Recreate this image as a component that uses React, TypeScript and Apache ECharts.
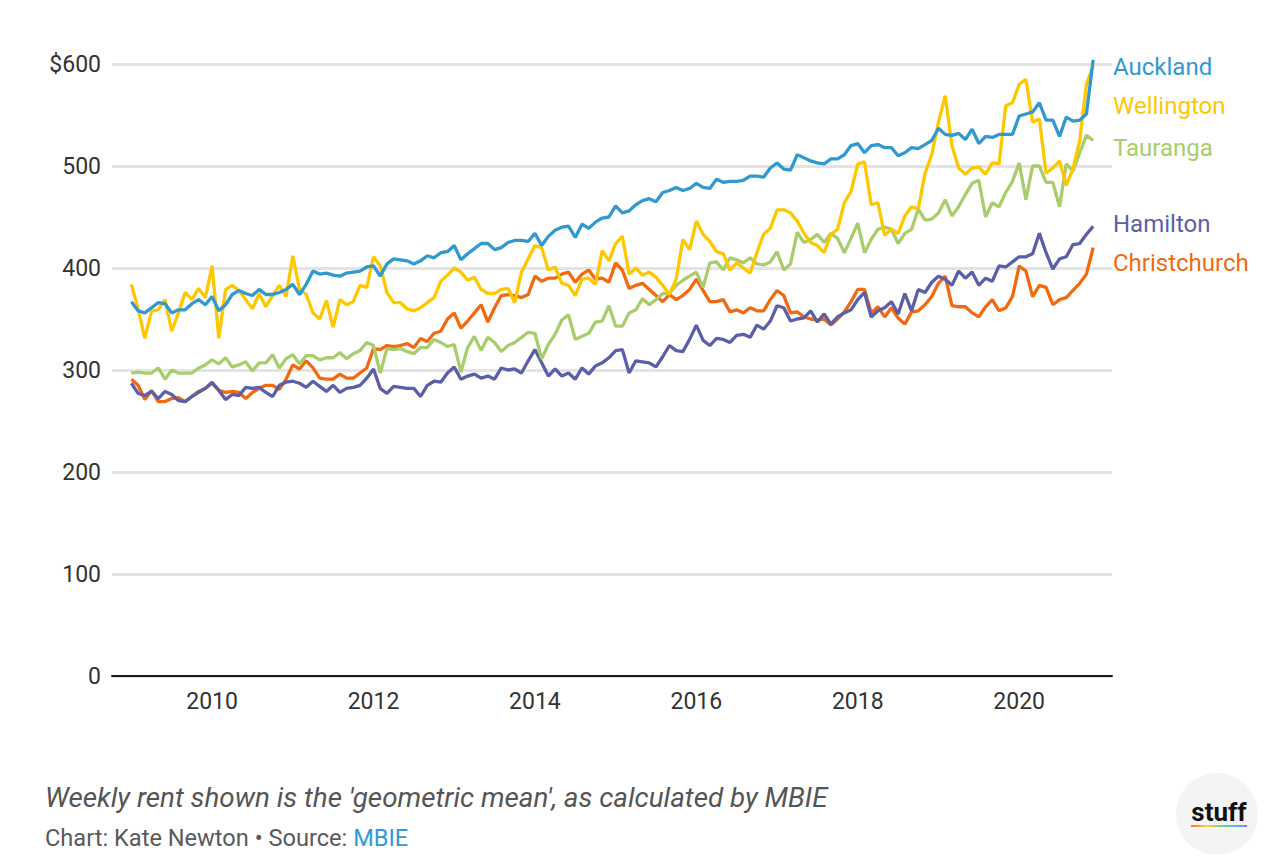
import React, { useEffect, useRef } from "react";
import * as echarts from "echarts";

// Monthly, Jan 2009 .. Dec 2020 (144 months)
const auckland = [
  367,358,356,361,366,365,356,359,359,365,369,364,372,358,364,374,378,375,373,379,374,374,376,379,384,374,384,397,394,395,393,392,395,396,397,401,402,392,404,409,408,407,404,407,412,410,
  415,416,422,408,414,419,424,424,418,420,425,427,427,426,434,422,431,437,440,441,430,443,439,445,449,450,461,454,456,462,466,468,465,474,476,479,476,478,483,479,478,487,484,485,485,486,490,490,
  489,498,503,497,496,511,508,505,503,502,507,507,511,520,522,513,520,521,518,518,510,513,518,517,521,525,537,531,530,532,526,536,522,529,528,531,531,531,
  549,551,553,562,545,545,529,548,544,545,551,604,
];
const wellington = [
  384,360,331,358,359,369,338,356,376,369,380,371,402,331,379,383,378,369,360,375,362,373,383,372,412,379,374,356,350,368,342,369,364,367,383,381,411,402,376,366,366,360,358,361,366,371,
  387,393,400,396,388,391,379,375,375,379,380,366,396,409,422,420,398,401,385,383,373,389,390,384,417,407,424,431,394,400,393,396,391,383,374,389,428,418,446,433,426,416,414,398,405,400,395,415,
  433,439,457,457,454,446,434,425,422,415,433,438,464,475,502,504,462,464,432,438,434,451,460,458,
  493,511,543,569,520,498,492,498,499,492,503,502,559,562,580,585,543,546,493,498,505,481,497,525,580,598,
];
const tauranga = [
  297,298,297,297,302,291,300,297,297,297,302,305,310,306,312,303,305,308,299,307,307,315,302,311,315,306,314,314,310,312,312,317,311,316,319,327,324,297,321,320,321,318,316,322,322,330,
  327,323,325,298,322,333,319,332,327,318,324,327,332,337,336,311,325,335,349,354,330,333,336,347,348,363,343,343,356,359,370,364,369,375,375,383,388,392,396,381,405,406,398,410,408,405,410,404,
  403,406,416,398,404,435,425,428,433,425,434,429,415,429,444,415,428,438,440,438,424,434,438,458,447,448,454,467,451,460,472,483,486,450,464,460,474,485,503,467,500,500,484,484,460,502,495,513,530,525,
];
const christchurch = [
  291,285,271,280,269,269,272,273,269,274,279,282,287,280,278,279,278,272,278,282,285,285,281,291,305,301,309,302,292,291,291,296,292,292,297,302,321,320,324,323,324,326,322,331,328,336,
  338,350,356,341,348,356,364,347,361,373,374,373,371,374,392,387,390,390,394,396,386,394,398,389,390,386,405,398,380,383,385,379,373,367,374,369,373,379,389,378,367,367,369,357,359,356,361,358,
  358,369,378,373,356,357,352,350,349,350,344,350,357,367,379,379,356,362,352,361,351,345,357,358,364,372,385,392,363,362,362,356,352,362,369,358,361,372,402,397,372,383,381,364,369,371,378,385,394,420,
];
const hamilton = [
  287,277,275,279,272,279,276,270,269,274,278,282,288,280,271,276,275,283,282,283,278,274,285,288,289,287,283,289,284,279,285,278,282,283,285,292,301,282,277,284,283,282,282,274,285,289,
  288,297,303,291,294,296,292,294,291,302,300,301,297,309,320,307,294,301,294,297,291,302,296,304,307,312,319,320,297,309,308,307,303,313,324,319,318,330,344,329,324,331,330,327,334,335,332,344,
  340,348,363,361,348,350,351,358,347,355,345,352,356,359,369,376,352,358,361,367,355,375,358,379,376,386,392,389,383,397,390,396,383,390,387,402,401,406,411,411,414,434,415,399,409,411,423,424,433,441,
];

const yearTicks = [2010, 2012, 2014, 2016, 2018, 2020];

const START_YEAR = 2009;
const monthX = (i: number) => START_YEAR + i / 12;

const COLORS: Record<string, string> = {
  Auckland: "#3299d0",
  Wellington: "#fdc800",
  Tauranga: "#a9cd6c",
  Hamilton: "#5c5fa8",
  Christchurch: "#f26a10",
};

const seriesDefs: [string, number[]][] = [
  ["Christchurch", christchurch],
  ["Hamilton", hamilton],
  ["Tauranga", tauranga],
  ["Wellington", wellington],
  ["Auckland", auckland],
];

const labelDefs: [string, number][] = [
  ["Auckland", 67],
  ["Wellington", 106],
  ["Tauranga", 148],
  ["Hamilton", 224],
  ["Christchurch", 263],
];

const FONT = "Roboto, 'Noto Sans', sans-serif";

export default function App() {
  const ref = useRef<HTMLDivElement>(null);
  useEffect(() => {
    if (!ref.current) return;
    const chart = echarts.init(ref.current, undefined, { renderer: "svg" });
    const option: any = {
      animation: false,
      backgroundColor: "#ffffff",
      textStyle: { fontFamily: FONT },
      grid: { left: 112, right: 172, top: 64, bottom: 190 },
      xAxis: {
        type: "value",
        min: 2008.76,
        max: 2021.15,
        axisLine: { show: true, lineStyle: { color: "#1a1a1a", width: 2 } },
        axisTick: { show: false },
        splitLine: { show: false },
        axisLabel: {
          customValues: yearTicks,
          formatter: (v: number) => String(Math.round(v)),
          color: "#333333",
          fontSize: 23,
          fontFamily: FONT,
          margin: 14,
        },
      },
      yAxis: {
        type: "value",
        min: 0,
        max: 600,
        interval: 100,
        axisLine: { show: false },
        axisTick: { show: false },
        splitLine: { show: true, lineStyle: { color: "#e4e4e4", width: 3 } },
        axisLabel: {
          formatter: (v: number) => (v === 600 ? "$600" : String(v)),
          color: "#333333",
          fontSize: 23,
          fontFamily: FONT,
          margin: 11,
        },
      },
      series: seriesDefs.map(([name, vals]) => ({
        name,
        type: "line",
        data: vals.map((v, i) => [monthX(i), v]),
        showSymbol: false,
        symbol: "none",
        clip: false,
        lineStyle: { color: COLORS[name], width: 3.3 },
        itemStyle: { color: COLORS[name] },
        z: 3,
      })),
      graphic: [
        ...labelDefs.map(([name, y]) => ({
          type: "text",
          x: 1113,
          y,
          style: {
            text: name,
            fill: COLORS[name],
            font: `24px ${FONT}`,
            verticalAlign: "middle",
          },
        })),
        {
          type: "text",
          x: 45,
          y: 797,
          style: {
            text: "Weekly rent shown is the 'geometric mean', as calculated by MBIE",
            fill: "#555555",
            font: `italic 27.8px ${FONT}`,
            verticalAlign: "middle",
          },
        },
        {
          type: "text",
          x: 45,
          y: 838,
          style: {
            text: "{a|Chart: Kate Newton • Source: }{b|MBIE}",
            verticalAlign: "middle",
            rich: {
              a: { fill: "#5a5a5a", font: `23.6px ${FONT}` },
              b: { fill: "#2e9bd6", font: `23.6px ${FONT}` },
            },
          },
        },
        {
          type: "circle",
          shape: { cx: 1217, cy: 814, r: 41 },
          style: { fill: "#f4f4f4" },
        },
        {
          type: "text",
          x: 1219,
          y: 812,
          style: {
            text: "stuff",
            fill: "#111111",
            font: `bold 26px ${FONT}`,
            align: "center",
            verticalAlign: "middle",
          },
        },
        {
          type: "rect",
          shape: { x: 1191, y: 825, width: 56, height: 2 },
          style: {
            fill: new echarts.graphic.LinearGradient(0, 0, 1, 0, [
              { offset: 0, color: "#f47b3c" },
              { offset: 0.3, color: "#f7d23a" },
              { offset: 0.55, color: "#6fd08c" },
              { offset: 0.8, color: "#5cb8f0" },
              { offset: 1, color: "#a06ff0" },
            ]),
          },
        },
      ],
    };
    chart.setOption(option);
    return () => chart.dispose();
  }, []);
  return (
    <div
      ref={ref}
      style={{ position: "fixed", left: 0, top: 0, width: 1284, height: 866 }}
    />
  );
}
